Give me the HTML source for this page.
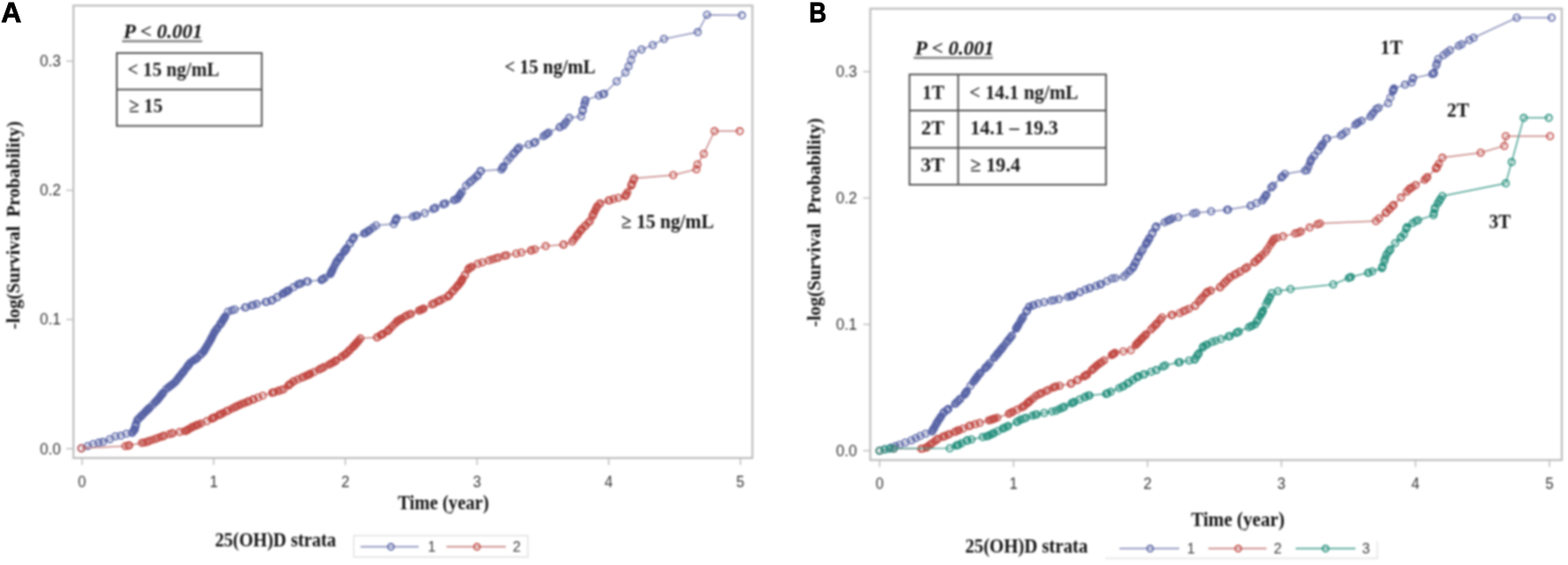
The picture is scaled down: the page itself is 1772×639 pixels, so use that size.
<!DOCTYPE html>
<html><head><meta charset="utf-8"><style>
html,body{margin:0;padding:0;background:#fff;width:1772px;height:639px;overflow:hidden}
svg{display:block;position:absolute;left:0;top:0}
#base{filter:blur(1px)}
.tk{font-family:"Liberation Sans",Arial,sans-serif;font-size:19px;fill:#333333}
.lg{font-family:"Liberation Sans",Arial,sans-serif;font-size:16px;fill:#3a3a3a}
.pl{font-family:"Liberation Sans",Arial,sans-serif;font-size:32px;font-weight:bold;fill:#000;stroke:#000;stroke-width:0.8px}
.pl2{font-family:"Liberation Sans",Arial,sans-serif;font-size:27px;font-weight:bold;fill:#000}
.pv{font-family:"Liberation Serif","Times New Roman",serif;font-size:23px;font-weight:bold;font-style:italic;fill:#111}
.tb{font-family:"Liberation Serif","Times New Roman",serif;font-size:23px;font-weight:bold;fill:#1a1a1a}
.cl{font-family:"Liberation Serif","Times New Roman",serif;font-size:23px;font-weight:bold;fill:#111}
.ax{font-family:"Liberation Serif","Times New Roman",serif;font-size:24px;font-weight:bold;fill:#111}
.ax2{font-family:"Liberation Serif","Times New Roman",serif;font-size:23.5px;font-weight:bold;fill:#111}
.ay{font-family:"Liberation Serif","Times New Roman",serif;font-size:22px;font-weight:bold;fill:#111}
</style></head><body>
<svg id="base" width="1772" height="639" viewBox="0 0 1772 639">
<rect width="1772" height="639" fill="#fff"/>
<rect x="83.0" y="6.3" width="767.3" height="511.7" fill="#fff" stroke="#bdbdbd" stroke-width="2.2"/>
<line x1="75.0" y1="507.5" x2="83.0" y2="507.5" stroke="#bdbdbd" stroke-width="1.5"/>
<text x="68.8" y="513.5" class="tk" text-anchor="end" textLength="23.8" lengthAdjust="spacingAndGlyphs">0.0</text>
<line x1="75.0" y1="361.4" x2="83.0" y2="361.4" stroke="#bdbdbd" stroke-width="1.5"/>
<text x="68.8" y="367.4" class="tk" text-anchor="end" textLength="23.8" lengthAdjust="spacingAndGlyphs">0.1</text>
<line x1="75.0" y1="215.3" x2="83.0" y2="215.3" stroke="#bdbdbd" stroke-width="1.5"/>
<text x="68.8" y="221.3" class="tk" text-anchor="end" textLength="23.8" lengthAdjust="spacingAndGlyphs">0.2</text>
<line x1="75.0" y1="69.2" x2="83.0" y2="69.2" stroke="#bdbdbd" stroke-width="1.5"/>
<text x="68.8" y="75.2" class="tk" text-anchor="end" textLength="23.8" lengthAdjust="spacingAndGlyphs">0.3</text>
<line x1="92.7" y1="518.0" x2="92.7" y2="526.0" stroke="#bdbdbd" stroke-width="1.5"/>
<text x="92.7" y="550.6" class="tk" text-anchor="middle" textLength="9.2" lengthAdjust="spacingAndGlyphs">0</text>
<line x1="241.5" y1="518.0" x2="241.5" y2="526.0" stroke="#bdbdbd" stroke-width="1.5"/>
<text x="241.5" y="550.6" class="tk" text-anchor="middle" textLength="9.2" lengthAdjust="spacingAndGlyphs">1</text>
<line x1="390.3" y1="518.0" x2="390.3" y2="526.0" stroke="#bdbdbd" stroke-width="1.5"/>
<text x="390.3" y="550.6" class="tk" text-anchor="middle" textLength="9.2" lengthAdjust="spacingAndGlyphs">2</text>
<line x1="539.1" y1="518.0" x2="539.1" y2="526.0" stroke="#bdbdbd" stroke-width="1.5"/>
<text x="539.1" y="550.6" class="tk" text-anchor="middle" textLength="9.2" lengthAdjust="spacingAndGlyphs">3</text>
<line x1="687.9" y1="518.0" x2="687.9" y2="526.0" stroke="#bdbdbd" stroke-width="1.5"/>
<text x="687.9" y="550.6" class="tk" text-anchor="middle" textLength="9.2" lengthAdjust="spacingAndGlyphs">4</text>
<line x1="836.7" y1="518.0" x2="836.7" y2="526.0" stroke="#bdbdbd" stroke-width="1.5"/>
<text x="836.7" y="550.6" class="tk" text-anchor="middle" textLength="9.2" lengthAdjust="spacingAndGlyphs">5</text>
<rect x="983.5" y="9.8" width="781.5" height="510.5" fill="#fff" stroke="#bdbdbd" stroke-width="2.2"/>
<line x1="975.5" y1="509.7" x2="983.5" y2="509.7" stroke="#bdbdbd" stroke-width="1.5"/>
<text x="968.6" y="515.7" class="tk" text-anchor="end" textLength="23.8" lengthAdjust="spacingAndGlyphs">0.0</text>
<line x1="975.5" y1="366.8" x2="983.5" y2="366.8" stroke="#bdbdbd" stroke-width="1.5"/>
<text x="968.6" y="372.8" class="tk" text-anchor="end" textLength="23.8" lengthAdjust="spacingAndGlyphs">0.1</text>
<line x1="975.5" y1="223.9" x2="983.5" y2="223.9" stroke="#bdbdbd" stroke-width="1.5"/>
<text x="968.6" y="229.9" class="tk" text-anchor="end" textLength="23.8" lengthAdjust="spacingAndGlyphs">0.2</text>
<line x1="975.5" y1="81.0" x2="983.5" y2="81.0" stroke="#bdbdbd" stroke-width="1.5"/>
<text x="968.6" y="87.0" class="tk" text-anchor="end" textLength="23.8" lengthAdjust="spacingAndGlyphs">0.3</text>
<line x1="994.0" y1="520.3" x2="994.0" y2="528.3" stroke="#bdbdbd" stroke-width="1.5"/>
<text x="994.0" y="552.9" class="tk" text-anchor="middle" textLength="9.2" lengthAdjust="spacingAndGlyphs">0</text>
<line x1="1145.4" y1="520.3" x2="1145.4" y2="528.3" stroke="#bdbdbd" stroke-width="1.5"/>
<text x="1145.4" y="552.9" class="tk" text-anchor="middle" textLength="9.2" lengthAdjust="spacingAndGlyphs">1</text>
<line x1="1296.8" y1="520.3" x2="1296.8" y2="528.3" stroke="#bdbdbd" stroke-width="1.5"/>
<text x="1296.8" y="552.9" class="tk" text-anchor="middle" textLength="9.2" lengthAdjust="spacingAndGlyphs">2</text>
<line x1="1448.2" y1="520.3" x2="1448.2" y2="528.3" stroke="#bdbdbd" stroke-width="1.5"/>
<text x="1448.2" y="552.9" class="tk" text-anchor="middle" textLength="9.2" lengthAdjust="spacingAndGlyphs">3</text>
<line x1="1599.6" y1="520.3" x2="1599.6" y2="528.3" stroke="#bdbdbd" stroke-width="1.5"/>
<text x="1599.6" y="552.9" class="tk" text-anchor="middle" textLength="9.2" lengthAdjust="spacingAndGlyphs">4</text>
<line x1="1751.0" y1="520.3" x2="1751.0" y2="528.3" stroke="#bdbdbd" stroke-width="1.5"/>
<text x="1751.0" y="552.9" class="tk" text-anchor="middle" textLength="9.2" lengthAdjust="spacingAndGlyphs">5</text>
<path d="M92.0,507.0 L99.1,504.5 L105.3,502.2 L111.6,500.6 L116.3,499.8 L124.1,496.7 L130.4,493.5 L136.6,492.8 L142.9,490.4 L149.2,489.6 L151.7,486.7 L155.0,475.2 L165.0,465.2 L177.6,452.7 L187.6,440.2 L197.6,432.6 L207.6,420.1 L215.1,410.1 L222.6,405.1 L230.1,397.6 L237.6,385.1 L242.7,375.1 L250.2,365.0 L257.7,352.5 L265.2,350.0 L277.7,347.5 L290.2,343.8 L306.7,340.0 L323.3,330.0 L336.7,321.7 L346.7,318.3 L363.3,316.7 L373.3,310.0 L380.0,296.7 L390.0,283.3 L400.0,268.3 L413.3,263.3 L425.0,255.0 L445.0,253.3 L448.3,246.7 L466.7,245.0 L480.0,241.0 L492.0,235.0 L503.3,230.0 L516.7,225.0 L526.7,210.0 L540.0,198.3 L543.3,193.3 L566.7,191.7 L573.3,181.7 L586.7,166.7 L603.3,161.7 L620.0,150.0 L636.7,141.7 L643.3,133.3 L656.7,131.7 L661.7,113.3 L682.8,106.0 L696.9,92.0 L706.8,82.0 L710.3,75.0 L713.1,68.0 L715.2,61.0 L725.0,56.0 L737.7,51.0 L750.4,44.0 L788.5,36.3 L799.0,16.7 L838.5,17.3" fill="none" stroke="#8c91bb" stroke-width="1.5"/>
<g fill="none" stroke="#5864a6" stroke-width="1.6"><circle cx="92.0" cy="507.0" r="3.7"/><circle cx="99.1" cy="504.5" r="3.7"/><circle cx="105.3" cy="502.2" r="3.7"/><circle cx="111.6" cy="500.6" r="3.7"/><circle cx="116.3" cy="499.8" r="3.7"/><circle cx="124.1" cy="496.7" r="3.7"/><circle cx="130.4" cy="493.5" r="3.7"/><circle cx="136.6" cy="492.8" r="3.7"/><circle cx="142.9" cy="490.4" r="3.7"/><circle cx="149.2" cy="489.6" r="3.7"/><circle cx="149.6" cy="489.1" r="3.7"/><circle cx="150.0" cy="488.6" r="3.7"/><circle cx="151.7" cy="486.7" r="3.7"/><circle cx="151.9" cy="486.1" r="3.7"/><circle cx="151.9" cy="485.8" r="3.7"/><circle cx="152.0" cy="485.7" r="3.7"/><circle cx="152.0" cy="485.7" r="3.7"/><circle cx="152.1" cy="485.5" r="3.7"/><circle cx="152.9" cy="482.4" r="3.7"/><circle cx="153.1" cy="481.7" r="3.7"/><circle cx="153.4" cy="480.9" r="3.7"/><circle cx="153.5" cy="480.6" r="3.7"/><circle cx="153.8" cy="479.3" r="3.7"/><circle cx="155.0" cy="475.2" r="3.7"/><circle cx="156.4" cy="473.8" r="3.7"/><circle cx="157.3" cy="472.9" r="3.7"/><circle cx="159.0" cy="471.2" r="3.7"/><circle cx="159.3" cy="470.9" r="3.7"/><circle cx="160.7" cy="469.5" r="3.7"/><circle cx="161.2" cy="469.0" r="3.7"/><circle cx="163.1" cy="467.1" r="3.7"/><circle cx="164.3" cy="465.9" r="3.7"/><circle cx="165.0" cy="465.2" r="3.7"/><circle cx="165.8" cy="464.4" r="3.7"/><circle cx="166.7" cy="463.5" r="3.7"/><circle cx="167.0" cy="463.2" r="3.7"/><circle cx="167.4" cy="462.8" r="3.7"/><circle cx="168.8" cy="461.5" r="3.7"/><circle cx="169.0" cy="461.2" r="3.7"/><circle cx="172.3" cy="458.0" r="3.7"/><circle cx="175.1" cy="455.2" r="3.7"/><circle cx="175.6" cy="454.6" r="3.7"/><circle cx="177.1" cy="453.2" r="3.7"/><circle cx="177.6" cy="452.7" r="3.7"/><circle cx="178.4" cy="451.7" r="3.7"/><circle cx="178.4" cy="451.7" r="3.7"/><circle cx="179.8" cy="450.0" r="3.7"/><circle cx="180.8" cy="448.7" r="3.7"/><circle cx="181.4" cy="448.0" r="3.7"/><circle cx="181.9" cy="447.3" r="3.7"/><circle cx="183.1" cy="445.9" r="3.7"/><circle cx="183.4" cy="445.4" r="3.7"/><circle cx="183.9" cy="444.8" r="3.7"/><circle cx="184.3" cy="444.3" r="3.7"/><circle cx="187.6" cy="440.2" r="3.7"/><circle cx="190.1" cy="438.3" r="3.7"/><circle cx="190.7" cy="437.9" r="3.7"/><circle cx="192.2" cy="436.7" r="3.7"/><circle cx="193.3" cy="435.9" r="3.7"/><circle cx="194.5" cy="434.9" r="3.7"/><circle cx="195.4" cy="434.3" r="3.7"/><circle cx="197.6" cy="432.6" r="3.7"/><circle cx="198.9" cy="430.9" r="3.7"/><circle cx="199.3" cy="430.5" r="3.7"/><circle cx="200.6" cy="428.9" r="3.7"/><circle cx="201.8" cy="427.3" r="3.7"/><circle cx="202.5" cy="426.5" r="3.7"/><circle cx="202.8" cy="426.0" r="3.7"/><circle cx="204.8" cy="423.6" r="3.7"/><circle cx="205.1" cy="423.3" r="3.7"/><circle cx="206.2" cy="421.8" r="3.7"/><circle cx="207.2" cy="420.6" r="3.7"/><circle cx="207.6" cy="420.1" r="3.7"/><circle cx="208.0" cy="419.5" r="3.7"/><circle cx="210.0" cy="416.9" r="3.7"/><circle cx="211.9" cy="414.4" r="3.7"/><circle cx="212.0" cy="414.2" r="3.7"/><circle cx="212.6" cy="413.5" r="3.7"/><circle cx="212.8" cy="413.2" r="3.7"/><circle cx="213.3" cy="412.6" r="3.7"/><circle cx="214.1" cy="411.5" r="3.7"/><circle cx="215.1" cy="410.1" r="3.7"/><circle cx="218.5" cy="407.8" r="3.7"/><circle cx="219.4" cy="407.2" r="3.7"/><circle cx="221.3" cy="406.0" r="3.7"/><circle cx="222.1" cy="405.5" r="3.7"/><circle cx="222.6" cy="405.1" r="3.7"/><circle cx="223.2" cy="404.5" r="3.7"/><circle cx="226.2" cy="401.5" r="3.7"/><circle cx="227.4" cy="400.3" r="3.7"/><circle cx="227.5" cy="400.2" r="3.7"/><circle cx="227.8" cy="399.9" r="3.7"/><circle cx="229.9" cy="397.8" r="3.7"/><circle cx="230.1" cy="397.6" r="3.7"/><circle cx="230.4" cy="397.1" r="3.7"/><circle cx="230.7" cy="396.6" r="3.7"/><circle cx="231.1" cy="395.9" r="3.7"/><circle cx="231.5" cy="395.3" r="3.7"/><circle cx="232.3" cy="393.9" r="3.7"/><circle cx="233.0" cy="392.7" r="3.7"/><circle cx="233.6" cy="391.8" r="3.7"/><circle cx="235.1" cy="389.3" r="3.7"/><circle cx="235.8" cy="388.1" r="3.7"/><circle cx="236.2" cy="387.5" r="3.7"/><circle cx="237.6" cy="385.1" r="3.7"/><circle cx="238.1" cy="384.1" r="3.7"/><circle cx="238.3" cy="383.7" r="3.7"/><circle cx="238.9" cy="382.5" r="3.7"/><circle cx="239.6" cy="381.1" r="3.7"/><circle cx="239.9" cy="380.6" r="3.7"/><circle cx="240.4" cy="379.6" r="3.7"/><circle cx="242.0" cy="376.5" r="3.7"/><circle cx="242.0" cy="376.4" r="3.7"/><circle cx="242.7" cy="375.1" r="3.7"/><circle cx="243.9" cy="373.4" r="3.7"/><circle cx="244.9" cy="372.2" r="3.7"/><circle cx="245.4" cy="371.4" r="3.7"/><circle cx="245.8" cy="370.9" r="3.7"/><circle cx="248.7" cy="367.0" r="3.7"/><circle cx="249.1" cy="366.5" r="3.7"/><circle cx="249.2" cy="366.3" r="3.7"/><circle cx="249.7" cy="365.6" r="3.7"/><circle cx="250.2" cy="365.0" r="3.7"/><circle cx="250.4" cy="364.7" r="3.7"/><circle cx="251.6" cy="362.6" r="3.7"/><circle cx="252.0" cy="362.0" r="3.7"/><circle cx="252.0" cy="361.9" r="3.7"/><circle cx="252.2" cy="361.6" r="3.7"/><circle cx="253.0" cy="360.3" r="3.7"/><circle cx="253.4" cy="359.7" r="3.7"/><circle cx="253.8" cy="358.9" r="3.7"/><circle cx="254.6" cy="357.7" r="3.7"/><circle cx="257.7" cy="352.5" r="3.7"/><circle cx="261.9" cy="351.1" r="3.7"/><circle cx="265.2" cy="350.0" r="3.7"/><circle cx="276.9" cy="347.7" r="3.7"/><circle cx="277.7" cy="347.5" r="3.7"/><circle cx="284.1" cy="345.6" r="3.7"/><circle cx="286.2" cy="345.0" r="3.7"/><circle cx="290.2" cy="343.8" r="3.7"/><circle cx="300.3" cy="341.5" r="3.7"/><circle cx="301.2" cy="341.3" r="3.7"/><circle cx="306.7" cy="340.0" r="3.7"/><circle cx="307.9" cy="339.3" r="3.7"/><circle cx="313.3" cy="336.0" r="3.7"/><circle cx="313.4" cy="336.0" r="3.7"/><circle cx="319.5" cy="332.3" r="3.7"/><circle cx="319.7" cy="332.1" r="3.7"/><circle cx="321.0" cy="331.4" r="3.7"/><circle cx="321.4" cy="331.2" r="3.7"/><circle cx="323.3" cy="330.0" r="3.7"/><circle cx="324.4" cy="329.3" r="3.7"/><circle cx="324.4" cy="329.3" r="3.7"/><circle cx="324.9" cy="329.0" r="3.7"/><circle cx="326.3" cy="328.2" r="3.7"/><circle cx="331.7" cy="324.8" r="3.7"/><circle cx="336.7" cy="321.7" r="3.7"/><circle cx="338.5" cy="321.1" r="3.7"/><circle cx="340.2" cy="320.5" r="3.7"/><circle cx="346.7" cy="318.3" r="3.7"/><circle cx="347.9" cy="318.2" r="3.7"/><circle cx="363.3" cy="316.7" r="3.7"/><circle cx="363.5" cy="316.6" r="3.7"/><circle cx="364.5" cy="315.9" r="3.7"/><circle cx="365.0" cy="315.6" r="3.7"/><circle cx="367.0" cy="314.2" r="3.7"/><circle cx="373.3" cy="310.0" r="3.7"/><circle cx="373.6" cy="309.4" r="3.7"/><circle cx="374.2" cy="308.2" r="3.7"/><circle cx="374.4" cy="307.8" r="3.7"/><circle cx="375.1" cy="306.5" r="3.7"/><circle cx="375.7" cy="305.3" r="3.7"/><circle cx="375.8" cy="305.1" r="3.7"/><circle cx="377.4" cy="301.9" r="3.7"/><circle cx="379.1" cy="298.6" r="3.7"/><circle cx="380.0" cy="296.7" r="3.7"/><circle cx="381.0" cy="295.3" r="3.7"/><circle cx="381.2" cy="295.1" r="3.7"/><circle cx="382.7" cy="293.0" r="3.7"/><circle cx="383.5" cy="292.0" r="3.7"/><circle cx="384.7" cy="290.4" r="3.7"/><circle cx="384.8" cy="290.2" r="3.7"/><circle cx="388.3" cy="285.5" r="3.7"/><circle cx="389.7" cy="283.7" r="3.7"/><circle cx="390.0" cy="283.3" r="3.7"/><circle cx="390.4" cy="282.7" r="3.7"/><circle cx="390.5" cy="282.6" r="3.7"/><circle cx="391.6" cy="280.9" r="3.7"/><circle cx="391.7" cy="280.7" r="3.7"/><circle cx="395.3" cy="275.4" r="3.7"/><circle cx="395.3" cy="275.4" r="3.7"/><circle cx="395.4" cy="275.2" r="3.7"/><circle cx="398.2" cy="271.1" r="3.7"/><circle cx="399.3" cy="269.3" r="3.7"/><circle cx="400.0" cy="268.3" r="3.7"/><circle cx="411.3" cy="264.1" r="3.7"/><circle cx="412.8" cy="263.5" r="3.7"/><circle cx="413.3" cy="263.3" r="3.7"/><circle cx="415.4" cy="261.8" r="3.7"/><circle cx="416.5" cy="261.1" r="3.7"/><circle cx="417.7" cy="260.2" r="3.7"/><circle cx="421.4" cy="257.6" r="3.7"/><circle cx="425.0" cy="255.0" r="3.7"/><circle cx="445.0" cy="253.3" r="3.7"/><circle cx="446.8" cy="249.8" r="3.7"/><circle cx="447.5" cy="248.3" r="3.7"/><circle cx="447.5" cy="248.2" r="3.7"/><circle cx="448.3" cy="246.7" r="3.7"/><circle cx="466.7" cy="245.0" r="3.7"/><circle cx="469.8" cy="244.1" r="3.7"/><circle cx="471.2" cy="243.7" r="3.7"/><circle cx="480.0" cy="241.0" r="3.7"/><circle cx="489.6" cy="236.2" r="3.7"/><circle cx="491.6" cy="235.2" r="3.7"/><circle cx="492.0" cy="235.0" r="3.7"/><circle cx="501.0" cy="231.0" r="3.7"/><circle cx="501.5" cy="230.8" r="3.7"/><circle cx="503.3" cy="230.0" r="3.7"/><circle cx="513.1" cy="226.3" r="3.7"/><circle cx="514.1" cy="226.0" r="3.7"/><circle cx="516.7" cy="225.0" r="3.7"/><circle cx="517.2" cy="224.3" r="3.7"/><circle cx="517.2" cy="224.3" r="3.7"/><circle cx="519.1" cy="221.4" r="3.7"/><circle cx="519.6" cy="220.7" r="3.7"/><circle cx="520.3" cy="219.6" r="3.7"/><circle cx="521.9" cy="217.2" r="3.7"/><circle cx="526.7" cy="210.0" r="3.7"/><circle cx="530.3" cy="206.9" r="3.7"/><circle cx="532.7" cy="204.7" r="3.7"/><circle cx="535.8" cy="202.0" r="3.7"/><circle cx="538.9" cy="199.2" r="3.7"/><circle cx="539.2" cy="199.0" r="3.7"/><circle cx="540.0" cy="198.3" r="3.7"/><circle cx="543.1" cy="193.6" r="3.7"/><circle cx="543.2" cy="193.5" r="3.7"/><circle cx="543.3" cy="193.3" r="3.7"/><circle cx="566.7" cy="191.7" r="3.7"/><circle cx="568.1" cy="189.6" r="3.7"/><circle cx="568.2" cy="189.4" r="3.7"/><circle cx="568.3" cy="189.3" r="3.7"/><circle cx="569.1" cy="188.0" r="3.7"/><circle cx="573.3" cy="181.7" r="3.7"/><circle cx="576.2" cy="178.5" r="3.7"/><circle cx="579.7" cy="174.5" r="3.7"/><circle cx="581.6" cy="172.4" r="3.7"/><circle cx="584.4" cy="169.3" r="3.7"/><circle cx="585.1" cy="168.4" r="3.7"/><circle cx="586.7" cy="166.7" r="3.7"/><circle cx="597.4" cy="163.5" r="3.7"/><circle cx="603.3" cy="161.7" r="3.7"/><circle cx="605.0" cy="160.5" r="3.7"/><circle cx="614.2" cy="154.0" r="3.7"/><circle cx="616.5" cy="152.5" r="3.7"/><circle cx="618.2" cy="151.2" r="3.7"/><circle cx="620.0" cy="150.0" r="3.7"/><circle cx="632.4" cy="143.9" r="3.7"/><circle cx="632.9" cy="143.6" r="3.7"/><circle cx="636.7" cy="141.7" r="3.7"/><circle cx="638.0" cy="140.1" r="3.7"/><circle cx="639.9" cy="137.7" r="3.7"/><circle cx="643.3" cy="133.3" r="3.7"/><circle cx="656.7" cy="131.7" r="3.7"/><circle cx="658.4" cy="125.5" r="3.7"/><circle cx="658.7" cy="124.3" r="3.7"/><circle cx="658.7" cy="124.2" r="3.7"/><circle cx="660.6" cy="117.4" r="3.7"/><circle cx="660.6" cy="117.2" r="3.7"/><circle cx="661.5" cy="114.2" r="3.7"/><circle cx="661.7" cy="113.3" r="3.7"/><circle cx="676.8" cy="108.1" r="3.7"/><circle cx="681.3" cy="106.5" r="3.7"/><circle cx="682.8" cy="106.0" r="3.7"/><circle cx="696.9" cy="92.0" r="3.7"/><circle cx="706.8" cy="82.0" r="3.7"/><circle cx="710.3" cy="75.0" r="3.7"/><circle cx="713.1" cy="68.0" r="3.7"/><circle cx="715.2" cy="61.0" r="3.7"/><circle cx="725.0" cy="56.0" r="3.7"/><circle cx="737.7" cy="51.0" r="3.7"/><circle cx="750.4" cy="44.0" r="3.7"/><circle cx="788.5" cy="36.3" r="3.7"/><circle cx="799.0" cy="16.7" r="3.7"/><circle cx="838.5" cy="17.3" r="3.7"/></g>
<path d="M92.0,507.0 L141.7,504.5 L165.0,500.0 L185.0,493.0 L195.0,490.0 L210.2,487.3 L218.0,482.6 L233.7,476.3 L249.3,468.5 L265.0,460.7 L273.5,456.8 L297.0,447.4 L320.4,440.3 L332.2,431.0 L348.6,423.9 L362.7,416.9 L376.8,409.8 L390.8,400.4 L400.2,391.0 L407.3,382.8 L426.0,381.6 L437.8,374.6 L449.5,362.9 L460.0,356.7 L476.7,350.0 L496.7,340.0 L506.7,335.0 L520.0,320.0 L530.0,303.3 L540.0,298.3 L556.7,293.3 L570.0,289.3 L583.3,286.7 L600.0,283.3 L616.7,278.3 L636.7,276.7 L646.7,273.3 L656.7,260.0 L666.7,250.0 L675.0,233.3 L678.3,230.0 L693.3,225.0 L706.7,221.7 L713.3,210.0 L716.7,201.7 L760.8,198.0 L787.0,191.5 L788.2,186.0 L795.3,174.0 L807.5,148.3 L836.0,148.3" fill="none" stroke="#c98585" stroke-width="1.5"/>
<g fill="none" stroke="#c24a44" stroke-width="1.6"><circle cx="92.0" cy="507.0" r="3.7"/><circle cx="141.7" cy="504.5" r="3.7"/><circle cx="145.0" cy="503.9" r="3.7"/><circle cx="145.5" cy="503.8" r="3.7"/><circle cx="146.0" cy="503.7" r="3.7"/><circle cx="160.2" cy="500.9" r="3.7"/><circle cx="162.4" cy="500.5" r="3.7"/><circle cx="165.0" cy="500.0" r="3.7"/><circle cx="167.9" cy="499.0" r="3.7"/><circle cx="168.2" cy="498.9" r="3.7"/><circle cx="172.1" cy="497.5" r="3.7"/><circle cx="175.9" cy="496.2" r="3.7"/><circle cx="178.0" cy="495.4" r="3.7"/><circle cx="181.3" cy="494.3" r="3.7"/><circle cx="184.2" cy="493.3" r="3.7"/><circle cx="185.0" cy="493.0" r="3.7"/><circle cx="185.3" cy="492.9" r="3.7"/><circle cx="191.4" cy="491.1" r="3.7"/><circle cx="194.5" cy="490.1" r="3.7"/><circle cx="195.0" cy="490.0" r="3.7"/><circle cx="203.0" cy="488.6" r="3.7"/><circle cx="208.9" cy="487.5" r="3.7"/><circle cx="210.2" cy="487.3" r="3.7"/><circle cx="211.9" cy="486.3" r="3.7"/><circle cx="212.2" cy="486.1" r="3.7"/><circle cx="213.6" cy="485.2" r="3.7"/><circle cx="216.5" cy="483.5" r="3.7"/><circle cx="216.9" cy="483.3" r="3.7"/><circle cx="218.0" cy="482.6" r="3.7"/><circle cx="220.3" cy="481.7" r="3.7"/><circle cx="221.9" cy="481.0" r="3.7"/><circle cx="222.2" cy="480.9" r="3.7"/><circle cx="222.7" cy="480.7" r="3.7"/><circle cx="224.6" cy="479.9" r="3.7"/><circle cx="227.2" cy="478.9" r="3.7"/><circle cx="233.7" cy="476.3" r="3.7"/><circle cx="239.3" cy="473.5" r="3.7"/><circle cx="240.3" cy="473.0" r="3.7"/><circle cx="240.9" cy="472.7" r="3.7"/><circle cx="241.5" cy="472.4" r="3.7"/><circle cx="242.7" cy="471.8" r="3.7"/><circle cx="247.6" cy="469.4" r="3.7"/><circle cx="247.6" cy="469.3" r="3.7"/><circle cx="247.8" cy="469.3" r="3.7"/><circle cx="249.3" cy="468.5" r="3.7"/><circle cx="249.7" cy="468.3" r="3.7"/><circle cx="249.9" cy="468.2" r="3.7"/><circle cx="252.4" cy="467.0" r="3.7"/><circle cx="256.2" cy="465.0" r="3.7"/><circle cx="257.5" cy="464.4" r="3.7"/><circle cx="257.6" cy="464.4" r="3.7"/><circle cx="261.7" cy="462.4" r="3.7"/><circle cx="265.0" cy="460.7" r="3.7"/><circle cx="266.6" cy="460.0" r="3.7"/><circle cx="269.0" cy="458.8" r="3.7"/><circle cx="271.1" cy="457.9" r="3.7"/><circle cx="273.5" cy="456.8" r="3.7"/><circle cx="276.4" cy="455.7" r="3.7"/><circle cx="279.6" cy="454.4" r="3.7"/><circle cx="280.2" cy="454.1" r="3.7"/><circle cx="281.3" cy="453.7" r="3.7"/><circle cx="285.7" cy="451.9" r="3.7"/><circle cx="286.5" cy="451.6" r="3.7"/><circle cx="286.5" cy="451.6" r="3.7"/><circle cx="286.6" cy="451.6" r="3.7"/><circle cx="291.7" cy="449.5" r="3.7"/><circle cx="297.0" cy="447.4" r="3.7"/><circle cx="307.4" cy="444.2" r="3.7"/><circle cx="308.9" cy="443.8" r="3.7"/><circle cx="310.1" cy="443.4" r="3.7"/><circle cx="314.5" cy="442.1" r="3.7"/><circle cx="314.8" cy="442.0" r="3.7"/><circle cx="318.0" cy="441.0" r="3.7"/><circle cx="320.4" cy="440.3" r="3.7"/><circle cx="325.8" cy="436.1" r="3.7"/><circle cx="326.1" cy="435.8" r="3.7"/><circle cx="326.4" cy="435.6" r="3.7"/><circle cx="326.4" cy="435.5" r="3.7"/><circle cx="326.7" cy="435.4" r="3.7"/><circle cx="327.6" cy="434.6" r="3.7"/><circle cx="328.5" cy="433.9" r="3.7"/><circle cx="331.3" cy="431.7" r="3.7"/><circle cx="332.2" cy="431.0" r="3.7"/><circle cx="336.6" cy="429.1" r="3.7"/><circle cx="341.3" cy="427.0" r="3.7"/><circle cx="343.5" cy="426.1" r="3.7"/><circle cx="346.3" cy="424.9" r="3.7"/><circle cx="347.4" cy="424.4" r="3.7"/><circle cx="347.4" cy="424.4" r="3.7"/><circle cx="348.6" cy="423.9" r="3.7"/><circle cx="349.9" cy="423.3" r="3.7"/><circle cx="350.5" cy="422.9" r="3.7"/><circle cx="350.7" cy="422.8" r="3.7"/><circle cx="354.9" cy="420.8" r="3.7"/><circle cx="360.3" cy="418.1" r="3.7"/><circle cx="362.7" cy="416.9" r="3.7"/><circle cx="364.0" cy="416.3" r="3.7"/><circle cx="366.2" cy="415.1" r="3.7"/><circle cx="372.0" cy="412.2" r="3.7"/><circle cx="373.6" cy="411.4" r="3.7"/><circle cx="375.1" cy="410.6" r="3.7"/><circle cx="376.8" cy="409.8" r="3.7"/><circle cx="379.0" cy="408.3" r="3.7"/><circle cx="379.2" cy="408.2" r="3.7"/><circle cx="380.0" cy="407.6" r="3.7"/><circle cx="386.0" cy="403.7" r="3.7"/><circle cx="386.7" cy="403.1" r="3.7"/><circle cx="388.9" cy="401.6" r="3.7"/><circle cx="390.1" cy="400.9" r="3.7"/><circle cx="390.8" cy="400.4" r="3.7"/><circle cx="392.4" cy="398.8" r="3.7"/><circle cx="394.6" cy="396.6" r="3.7"/><circle cx="394.9" cy="396.3" r="3.7"/><circle cx="395.4" cy="395.8" r="3.7"/><circle cx="398.5" cy="392.7" r="3.7"/><circle cx="399.6" cy="391.6" r="3.7"/><circle cx="399.9" cy="391.3" r="3.7"/><circle cx="400.2" cy="391.0" r="3.7"/><circle cx="400.5" cy="390.7" r="3.7"/><circle cx="401.7" cy="389.3" r="3.7"/><circle cx="402.5" cy="388.3" r="3.7"/><circle cx="402.7" cy="388.2" r="3.7"/><circle cx="403.9" cy="386.8" r="3.7"/><circle cx="405.3" cy="385.2" r="3.7"/><circle cx="407.3" cy="382.8" r="3.7"/><circle cx="426.0" cy="381.6" r="3.7"/><circle cx="426.4" cy="381.3" r="3.7"/><circle cx="430.0" cy="379.2" r="3.7"/><circle cx="431.2" cy="378.5" r="3.7"/><circle cx="432.5" cy="377.7" r="3.7"/><circle cx="433.3" cy="377.3" r="3.7"/><circle cx="437.8" cy="374.6" r="3.7"/><circle cx="438.5" cy="373.9" r="3.7"/><circle cx="438.8" cy="373.6" r="3.7"/><circle cx="439.2" cy="373.2" r="3.7"/><circle cx="441.0" cy="371.4" r="3.7"/><circle cx="443.8" cy="368.6" r="3.7"/><circle cx="446.9" cy="365.5" r="3.7"/><circle cx="448.9" cy="363.5" r="3.7"/><circle cx="449.1" cy="363.3" r="3.7"/><circle cx="449.5" cy="362.9" r="3.7"/><circle cx="451.0" cy="362.0" r="3.7"/><circle cx="452.4" cy="361.2" r="3.7"/><circle cx="454.0" cy="360.3" r="3.7"/><circle cx="457.6" cy="358.1" r="3.7"/><circle cx="460.0" cy="356.7" r="3.7"/><circle cx="462.7" cy="355.6" r="3.7"/><circle cx="464.5" cy="354.9" r="3.7"/><circle cx="473.5" cy="351.3" r="3.7"/><circle cx="474.9" cy="350.7" r="3.7"/><circle cx="476.7" cy="350.0" r="3.7"/><circle cx="478.2" cy="349.2" r="3.7"/><circle cx="478.8" cy="348.9" r="3.7"/><circle cx="488.1" cy="344.3" r="3.7"/><circle cx="490.3" cy="343.2" r="3.7"/><circle cx="490.5" cy="343.1" r="3.7"/><circle cx="494.7" cy="341.0" r="3.7"/><circle cx="496.7" cy="340.0" r="3.7"/><circle cx="497.6" cy="339.6" r="3.7"/><circle cx="501.0" cy="337.9" r="3.7"/><circle cx="505.9" cy="335.4" r="3.7"/><circle cx="506.7" cy="335.0" r="3.7"/><circle cx="507.8" cy="333.7" r="3.7"/><circle cx="508.0" cy="333.5" r="3.7"/><circle cx="511.3" cy="329.8" r="3.7"/><circle cx="512.8" cy="328.2" r="3.7"/><circle cx="515.1" cy="325.6" r="3.7"/><circle cx="517.2" cy="323.2" r="3.7"/><circle cx="517.9" cy="322.4" r="3.7"/><circle cx="518.0" cy="322.3" r="3.7"/><circle cx="520.0" cy="320.0" r="3.7"/><circle cx="520.7" cy="318.9" r="3.7"/><circle cx="521.3" cy="317.9" r="3.7"/><circle cx="521.4" cy="317.6" r="3.7"/><circle cx="521.7" cy="317.1" r="3.7"/><circle cx="522.5" cy="315.8" r="3.7"/><circle cx="522.8" cy="315.4" r="3.7"/><circle cx="525.3" cy="311.2" r="3.7"/><circle cx="525.5" cy="310.8" r="3.7"/><circle cx="529.1" cy="304.8" r="3.7"/><circle cx="530.0" cy="303.3" r="3.7"/><circle cx="532.1" cy="302.2" r="3.7"/><circle cx="533.2" cy="301.7" r="3.7"/><circle cx="540.0" cy="298.3" r="3.7"/><circle cx="545.2" cy="296.7" r="3.7"/><circle cx="552.5" cy="294.6" r="3.7"/><circle cx="556.7" cy="293.3" r="3.7"/><circle cx="560.7" cy="292.1" r="3.7"/><circle cx="563.4" cy="291.3" r="3.7"/><circle cx="570.0" cy="289.3" r="3.7"/><circle cx="572.5" cy="288.8" r="3.7"/><circle cx="583.3" cy="286.7" r="3.7"/><circle cx="589.2" cy="285.5" r="3.7"/><circle cx="600.0" cy="283.3" r="3.7"/><circle cx="600.6" cy="283.1" r="3.7"/><circle cx="604.3" cy="282.0" r="3.7"/><circle cx="616.7" cy="278.3" r="3.7"/><circle cx="636.7" cy="276.7" r="3.7"/><circle cx="637.0" cy="276.6" r="3.7"/><circle cx="646.7" cy="273.3" r="3.7"/><circle cx="648.7" cy="270.6" r="3.7"/><circle cx="651.5" cy="267.0" r="3.7"/><circle cx="652.2" cy="266.0" r="3.7"/><circle cx="653.9" cy="263.7" r="3.7"/><circle cx="655.9" cy="261.1" r="3.7"/><circle cx="656.7" cy="260.0" r="3.7"/><circle cx="657.9" cy="258.8" r="3.7"/><circle cx="661.0" cy="255.7" r="3.7"/><circle cx="661.7" cy="255.0" r="3.7"/><circle cx="664.8" cy="251.9" r="3.7"/><circle cx="666.7" cy="250.0" r="3.7"/><circle cx="669.6" cy="244.2" r="3.7"/><circle cx="670.0" cy="243.4" r="3.7"/><circle cx="670.9" cy="241.5" r="3.7"/><circle cx="672.3" cy="238.6" r="3.7"/><circle cx="673.5" cy="236.3" r="3.7"/><circle cx="674.7" cy="233.9" r="3.7"/><circle cx="675.0" cy="233.3" r="3.7"/><circle cx="677.7" cy="230.6" r="3.7"/><circle cx="678.3" cy="230.0" r="3.7"/><circle cx="687.8" cy="226.8" r="3.7"/><circle cx="688.8" cy="226.5" r="3.7"/><circle cx="693.3" cy="225.0" r="3.7"/><circle cx="698.8" cy="223.7" r="3.7"/><circle cx="706.7" cy="221.7" r="3.7"/><circle cx="707.2" cy="220.9" r="3.7"/><circle cx="707.3" cy="220.7" r="3.7"/><circle cx="707.7" cy="220.0" r="3.7"/><circle cx="709.0" cy="217.6" r="3.7"/><circle cx="713.3" cy="210.0" r="3.7"/><circle cx="713.9" cy="208.5" r="3.7"/><circle cx="714.2" cy="207.8" r="3.7"/><circle cx="715.8" cy="203.9" r="3.7"/><circle cx="716.7" cy="201.7" r="3.7"/><circle cx="760.8" cy="198.0" r="3.7"/><circle cx="787.0" cy="191.5" r="3.7"/><circle cx="788.2" cy="186.0" r="3.7"/><circle cx="795.3" cy="174.0" r="3.7"/><circle cx="807.5" cy="148.3" r="3.7"/><circle cx="836.0" cy="148.3" r="3.7"/></g>
<path d="M994.0,509.7 L1000.0,508.0 L1006.7,506.3 L1012.0,504.5 L1016.7,503.0 L1023.0,500.5 L1030.0,498.0 L1035.0,495.5 L1040.0,493.0 L1046.0,490.5 L1053.3,488.0 L1060.0,476.3 L1066.7,466.3 L1080.0,456.3 L1090.0,446.3 L1096.7,436.3 L1106.7,423.0 L1116.7,413.0 L1130.0,396.7 L1143.3,380.0 L1153.3,363.3 L1163.3,346.7 L1173.3,343.3 L1180.0,341.7 L1196.7,338.3 L1210.0,335.0 L1226.7,327.5 L1243.3,321.7 L1256.7,315.0 L1270.0,312.7 L1280.0,303.3 L1286.7,290.0 L1296.7,273.3 L1306.7,256.0 L1325.0,247.0 L1351.7,240.7 L1386.7,237.3 L1413.3,232.7 L1426.7,226.7 L1436.7,212.0 L1452.0,196.7 L1477.0,192.5 L1482.0,180.0 L1490.0,170.0 L1498.7,157.0 L1515.3,153.3 L1535.3,138.3 L1548.7,131.7 L1555.3,123.3 L1568.7,116.7 L1575.3,100.0 L1595.3,93.3 L1597.0,88.3 L1620.3,83.3 L1625.3,66.7 L1638.7,56.7 L1652.0,50.0 L1665.3,42.7 L1714.0,20.0 L1753.5,20.0" fill="none" stroke="#8c91bb" stroke-width="1.5"/>
<g fill="none" stroke="#5864a6" stroke-width="1.6"><circle cx="994.0" cy="509.7" r="3.7"/><circle cx="1000.0" cy="508.0" r="3.7"/><circle cx="1006.7" cy="506.3" r="3.7"/><circle cx="1012.0" cy="504.5" r="3.7"/><circle cx="1016.7" cy="503.0" r="3.7"/><circle cx="1023.0" cy="500.5" r="3.7"/><circle cx="1030.0" cy="498.0" r="3.7"/><circle cx="1035.0" cy="495.5" r="3.7"/><circle cx="1040.0" cy="493.0" r="3.7"/><circle cx="1046.0" cy="490.5" r="3.7"/><circle cx="1053.3" cy="488.0" r="3.7"/><circle cx="1054.0" cy="486.8" r="3.7"/><circle cx="1055.0" cy="485.0" r="3.7"/><circle cx="1055.2" cy="484.6" r="3.7"/><circle cx="1055.3" cy="484.5" r="3.7"/><circle cx="1056.4" cy="482.6" r="3.7"/><circle cx="1057.7" cy="480.2" r="3.7"/><circle cx="1058.8" cy="478.3" r="3.7"/><circle cx="1059.0" cy="478.0" r="3.7"/><circle cx="1060.0" cy="476.3" r="3.7"/><circle cx="1061.1" cy="474.6" r="3.7"/><circle cx="1061.8" cy="473.6" r="3.7"/><circle cx="1063.0" cy="471.8" r="3.7"/><circle cx="1063.7" cy="470.8" r="3.7"/><circle cx="1066.3" cy="466.9" r="3.7"/><circle cx="1066.4" cy="466.8" r="3.7"/><circle cx="1066.7" cy="466.3" r="3.7"/><circle cx="1067.0" cy="466.1" r="3.7"/><circle cx="1070.1" cy="463.8" r="3.7"/><circle cx="1070.9" cy="463.1" r="3.7"/><circle cx="1071.5" cy="462.7" r="3.7"/><circle cx="1071.8" cy="462.4" r="3.7"/><circle cx="1079.3" cy="456.8" r="3.7"/><circle cx="1080.0" cy="456.3" r="3.7"/><circle cx="1080.2" cy="456.1" r="3.7"/><circle cx="1082.1" cy="454.2" r="3.7"/><circle cx="1082.7" cy="453.6" r="3.7"/><circle cx="1084.8" cy="451.5" r="3.7"/><circle cx="1085.0" cy="451.3" r="3.7"/><circle cx="1085.0" cy="451.3" r="3.7"/><circle cx="1090.0" cy="446.3" r="3.7"/><circle cx="1090.3" cy="445.9" r="3.7"/><circle cx="1090.4" cy="445.7" r="3.7"/><circle cx="1090.7" cy="445.2" r="3.7"/><circle cx="1091.6" cy="443.9" r="3.7"/><circle cx="1092.1" cy="443.2" r="3.7"/><circle cx="1092.7" cy="442.3" r="3.7"/><circle cx="1096.7" cy="436.3" r="3.7"/><circle cx="1100.0" cy="431.9" r="3.7"/><circle cx="1100.6" cy="431.1" r="3.7"/><circle cx="1102.0" cy="429.3" r="3.7"/><circle cx="1102.5" cy="428.6" r="3.7"/><circle cx="1103.2" cy="427.6" r="3.7"/><circle cx="1103.8" cy="426.9" r="3.7"/><circle cx="1104.1" cy="426.5" r="3.7"/><circle cx="1105.3" cy="424.8" r="3.7"/><circle cx="1106.7" cy="423.0" r="3.7"/><circle cx="1107.3" cy="422.4" r="3.7"/><circle cx="1108.3" cy="421.4" r="3.7"/><circle cx="1113.1" cy="416.6" r="3.7"/><circle cx="1113.9" cy="415.8" r="3.7"/><circle cx="1114.9" cy="414.8" r="3.7"/><circle cx="1116.4" cy="413.3" r="3.7"/><circle cx="1116.7" cy="413.0" r="3.7"/><circle cx="1118.7" cy="410.5" r="3.7"/><circle cx="1123.4" cy="404.8" r="3.7"/><circle cx="1123.7" cy="404.5" r="3.7"/><circle cx="1125.0" cy="402.9" r="3.7"/><circle cx="1126.3" cy="401.2" r="3.7"/><circle cx="1127.2" cy="400.1" r="3.7"/><circle cx="1127.3" cy="400.0" r="3.7"/><circle cx="1127.5" cy="399.7" r="3.7"/><circle cx="1127.6" cy="399.6" r="3.7"/><circle cx="1128.4" cy="398.7" r="3.7"/><circle cx="1130.0" cy="396.7" r="3.7"/><circle cx="1130.7" cy="395.9" r="3.7"/><circle cx="1131.6" cy="394.7" r="3.7"/><circle cx="1132.0" cy="394.2" r="3.7"/><circle cx="1133.2" cy="392.7" r="3.7"/><circle cx="1134.9" cy="390.6" r="3.7"/><circle cx="1137.7" cy="387.0" r="3.7"/><circle cx="1139.0" cy="385.4" r="3.7"/><circle cx="1139.1" cy="385.3" r="3.7"/><circle cx="1140.9" cy="383.0" r="3.7"/><circle cx="1141.7" cy="382.1" r="3.7"/><circle cx="1143.3" cy="380.0" r="3.7"/><circle cx="1143.5" cy="379.6" r="3.7"/><circle cx="1148.2" cy="371.8" r="3.7"/><circle cx="1148.3" cy="371.6" r="3.7"/><circle cx="1148.6" cy="371.1" r="3.7"/><circle cx="1148.9" cy="370.7" r="3.7"/><circle cx="1149.5" cy="369.6" r="3.7"/><circle cx="1149.5" cy="369.6" r="3.7"/><circle cx="1150.0" cy="368.8" r="3.7"/><circle cx="1150.7" cy="367.7" r="3.7"/><circle cx="1151.2" cy="366.9" r="3.7"/><circle cx="1153.3" cy="363.3" r="3.7"/><circle cx="1154.1" cy="361.9" r="3.7"/><circle cx="1154.2" cy="361.8" r="3.7"/><circle cx="1155.5" cy="359.7" r="3.7"/><circle cx="1155.9" cy="358.9" r="3.7"/><circle cx="1156.0" cy="358.7" r="3.7"/><circle cx="1159.8" cy="352.5" r="3.7"/><circle cx="1160.5" cy="351.3" r="3.7"/><circle cx="1160.6" cy="351.2" r="3.7"/><circle cx="1160.6" cy="351.2" r="3.7"/><circle cx="1162.9" cy="347.4" r="3.7"/><circle cx="1163.3" cy="346.7" r="3.7"/><circle cx="1167.2" cy="345.4" r="3.7"/><circle cx="1168.2" cy="345.0" r="3.7"/><circle cx="1173.3" cy="343.3" r="3.7"/><circle cx="1180.0" cy="341.7" r="3.7"/><circle cx="1188.0" cy="340.1" r="3.7"/><circle cx="1191.3" cy="339.4" r="3.7"/><circle cx="1196.7" cy="338.3" r="3.7"/><circle cx="1206.8" cy="335.8" r="3.7"/><circle cx="1210.0" cy="335.0" r="3.7"/><circle cx="1211.6" cy="334.3" r="3.7"/><circle cx="1212.7" cy="333.8" r="3.7"/><circle cx="1220.2" cy="330.4" r="3.7"/><circle cx="1220.6" cy="330.2" r="3.7"/><circle cx="1226.7" cy="327.5" r="3.7"/><circle cx="1231.1" cy="326.0" r="3.7"/><circle cx="1231.9" cy="325.7" r="3.7"/><circle cx="1238.9" cy="323.2" r="3.7"/><circle cx="1243.3" cy="321.7" r="3.7"/><circle cx="1243.7" cy="321.5" r="3.7"/><circle cx="1244.3" cy="321.2" r="3.7"/><circle cx="1250.9" cy="317.9" r="3.7"/><circle cx="1256.7" cy="315.0" r="3.7"/><circle cx="1260.4" cy="314.4" r="3.7"/><circle cx="1270.0" cy="312.7" r="3.7"/><circle cx="1273.0" cy="309.9" r="3.7"/><circle cx="1276.7" cy="306.4" r="3.7"/><circle cx="1276.7" cy="306.4" r="3.7"/><circle cx="1276.8" cy="306.3" r="3.7"/><circle cx="1280.0" cy="303.3" r="3.7"/><circle cx="1280.9" cy="301.5" r="3.7"/><circle cx="1281.4" cy="300.5" r="3.7"/><circle cx="1283.1" cy="297.1" r="3.7"/><circle cx="1283.1" cy="297.1" r="3.7"/><circle cx="1283.5" cy="296.4" r="3.7"/><circle cx="1285.9" cy="291.6" r="3.7"/><circle cx="1286.7" cy="290.0" r="3.7"/><circle cx="1287.1" cy="289.4" r="3.7"/><circle cx="1289.5" cy="285.4" r="3.7"/><circle cx="1291.2" cy="282.5" r="3.7"/><circle cx="1291.3" cy="282.3" r="3.7"/><circle cx="1294.8" cy="276.5" r="3.7"/><circle cx="1295.9" cy="274.7" r="3.7"/><circle cx="1296.2" cy="274.1" r="3.7"/><circle cx="1296.3" cy="274.0" r="3.7"/><circle cx="1296.7" cy="273.3" r="3.7"/><circle cx="1298.2" cy="270.8" r="3.7"/><circle cx="1298.3" cy="270.6" r="3.7"/><circle cx="1298.9" cy="269.5" r="3.7"/><circle cx="1298.9" cy="269.5" r="3.7"/><circle cx="1301.9" cy="264.3" r="3.7"/><circle cx="1302.5" cy="263.3" r="3.7"/><circle cx="1306.0" cy="257.2" r="3.7"/><circle cx="1306.0" cy="257.1" r="3.7"/><circle cx="1306.7" cy="256.0" r="3.7"/><circle cx="1316.0" cy="251.4" r="3.7"/><circle cx="1319.4" cy="249.7" r="3.7"/><circle cx="1321.5" cy="248.7" r="3.7"/><circle cx="1322.6" cy="248.2" r="3.7"/><circle cx="1325.0" cy="247.0" r="3.7"/><circle cx="1331.5" cy="245.5" r="3.7"/><circle cx="1348.5" cy="241.4" r="3.7"/><circle cx="1351.7" cy="240.7" r="3.7"/><circle cx="1368.7" cy="239.0" r="3.7"/><circle cx="1386.7" cy="237.3" r="3.7"/><circle cx="1387.9" cy="237.1" r="3.7"/><circle cx="1413.3" cy="232.7" r="3.7"/><circle cx="1413.6" cy="232.6" r="3.7"/><circle cx="1419.9" cy="229.7" r="3.7"/><circle cx="1426.7" cy="226.7" r="3.7"/><circle cx="1428.3" cy="224.4" r="3.7"/><circle cx="1429.8" cy="222.1" r="3.7"/><circle cx="1429.9" cy="221.9" r="3.7"/><circle cx="1430.2" cy="221.6" r="3.7"/><circle cx="1431.2" cy="220.0" r="3.7"/><circle cx="1436.7" cy="212.0" r="3.7"/><circle cx="1437.0" cy="211.7" r="3.7"/><circle cx="1438.8" cy="209.9" r="3.7"/><circle cx="1448.0" cy="200.7" r="3.7"/><circle cx="1449.3" cy="199.4" r="3.7"/><circle cx="1449.3" cy="199.4" r="3.7"/><circle cx="1452.0" cy="196.7" r="3.7"/><circle cx="1474.7" cy="192.9" r="3.7"/><circle cx="1477.0" cy="192.5" r="3.7"/><circle cx="1478.5" cy="188.8" r="3.7"/><circle cx="1480.5" cy="183.7" r="3.7"/><circle cx="1481.4" cy="181.4" r="3.7"/><circle cx="1482.0" cy="180.0" r="3.7"/><circle cx="1485.0" cy="176.2" r="3.7"/><circle cx="1485.2" cy="176.0" r="3.7"/><circle cx="1489.8" cy="170.2" r="3.7"/><circle cx="1490.0" cy="170.0" r="3.7"/><circle cx="1492.5" cy="166.3" r="3.7"/><circle cx="1493.2" cy="165.2" r="3.7"/><circle cx="1493.7" cy="164.4" r="3.7"/><circle cx="1495.1" cy="162.4" r="3.7"/><circle cx="1498.7" cy="157.0" r="3.7"/><circle cx="1499.8" cy="156.8" r="3.7"/><circle cx="1515.3" cy="153.3" r="3.7"/><circle cx="1517.7" cy="151.5" r="3.7"/><circle cx="1521.2" cy="148.9" r="3.7"/><circle cx="1531.7" cy="141.0" r="3.7"/><circle cx="1533.7" cy="139.5" r="3.7"/><circle cx="1535.3" cy="138.3" r="3.7"/><circle cx="1538.8" cy="136.6" r="3.7"/><circle cx="1548.7" cy="131.7" r="3.7"/><circle cx="1550.5" cy="129.4" r="3.7"/><circle cx="1552.1" cy="127.4" r="3.7"/><circle cx="1555.3" cy="123.3" r="3.7"/><circle cx="1558.0" cy="122.0" r="3.7"/><circle cx="1568.7" cy="116.7" r="3.7"/><circle cx="1571.2" cy="110.4" r="3.7"/><circle cx="1574.0" cy="103.3" r="3.7"/><circle cx="1574.4" cy="102.2" r="3.7"/><circle cx="1574.9" cy="101.0" r="3.7"/><circle cx="1575.3" cy="100.0" r="3.7"/><circle cx="1587.8" cy="95.8" r="3.7"/><circle cx="1595.3" cy="93.3" r="3.7"/><circle cx="1596.8" cy="88.8" r="3.7"/><circle cx="1597.0" cy="88.3" r="3.7"/><circle cx="1618.5" cy="83.7" r="3.7"/><circle cx="1620.3" cy="83.3" r="3.7"/><circle cx="1620.6" cy="82.2" r="3.7"/><circle cx="1623.0" cy="74.2" r="3.7"/><circle cx="1623.9" cy="71.5" r="3.7"/><circle cx="1625.3" cy="66.7" r="3.7"/><circle cx="1631.4" cy="62.2" r="3.7"/><circle cx="1635.0" cy="59.5" r="3.7"/><circle cx="1638.7" cy="56.7" r="3.7"/><circle cx="1648.6" cy="51.7" r="3.7"/><circle cx="1652.0" cy="50.0" r="3.7"/><circle cx="1660.5" cy="45.3" r="3.7"/><circle cx="1665.3" cy="42.7" r="3.7"/><circle cx="1714.0" cy="20.0" r="3.7"/><circle cx="1753.5" cy="20.0" r="3.7"/></g>
<path d="M994.0,509.7 L1010.0,507.5 L1041.0,507.6 L1046.7,506.3 L1060.0,496.3 L1080.0,488.0 L1096.7,481.3 L1120.0,474.7 L1140.0,468.0 L1156.7,459.7 L1171.0,447.5 L1193.3,437.0 L1210.0,434.0 L1228.0,424.0 L1240.0,413.0 L1260.0,399.0 L1278.0,396.0 L1290.0,383.3 L1306.7,366.7 L1313.3,359.0 L1333.3,354.0 L1350.4,346.0 L1364.5,330.0 L1378.6,325.0 L1390.3,313.5 L1406.8,304.0 L1418.5,296.0 L1430.2,285.0 L1440.0,270.0 L1450.0,267.3 L1466.7,263.3 L1480.0,257.3 L1491.7,252.7 L1555.0,250.0 L1566.7,240.0 L1583.3,223.3 L1593.3,213.3 L1610.0,203.3 L1623.3,190.0 L1630.0,178.3 L1673.3,172.7 L1700.0,165.0 L1701.7,154.0 L1751.7,154.0" fill="none" stroke="#c98585" stroke-width="1.5"/>
<g fill="none" stroke="#c24a44" stroke-width="1.6"><circle cx="994.0" cy="509.7" r="3.7"/><circle cx="1010.0" cy="507.5" r="3.7"/><circle cx="1041.0" cy="507.6" r="3.7"/><circle cx="1042.7" cy="507.2" r="3.7"/><circle cx="1046.7" cy="506.3" r="3.7"/><circle cx="1047.6" cy="505.6" r="3.7"/><circle cx="1048.6" cy="504.9" r="3.7"/><circle cx="1050.8" cy="503.2" r="3.7"/><circle cx="1051.4" cy="502.8" r="3.7"/><circle cx="1053.0" cy="501.6" r="3.7"/><circle cx="1056.4" cy="499.0" r="3.7"/><circle cx="1058.8" cy="497.2" r="3.7"/><circle cx="1060.0" cy="496.3" r="3.7"/><circle cx="1065.4" cy="494.1" r="3.7"/><circle cx="1066.2" cy="493.7" r="3.7"/><circle cx="1068.0" cy="493.0" r="3.7"/><circle cx="1071.1" cy="491.7" r="3.7"/><circle cx="1073.0" cy="490.9" r="3.7"/><circle cx="1079.1" cy="488.4" r="3.7"/><circle cx="1080.0" cy="488.0" r="3.7"/><circle cx="1082.9" cy="486.8" r="3.7"/><circle cx="1083.0" cy="486.8" r="3.7"/><circle cx="1083.7" cy="486.5" r="3.7"/><circle cx="1088.3" cy="484.7" r="3.7"/><circle cx="1094.9" cy="482.0" r="3.7"/><circle cx="1096.7" cy="481.3" r="3.7"/><circle cx="1102.1" cy="479.8" r="3.7"/><circle cx="1107.2" cy="478.3" r="3.7"/><circle cx="1117.4" cy="475.4" r="3.7"/><circle cx="1119.5" cy="474.9" r="3.7"/><circle cx="1120.0" cy="474.7" r="3.7"/><circle cx="1122.1" cy="474.0" r="3.7"/><circle cx="1123.1" cy="473.7" r="3.7"/><circle cx="1124.1" cy="473.3" r="3.7"/><circle cx="1127.0" cy="472.4" r="3.7"/><circle cx="1140.0" cy="468.0" r="3.7"/><circle cx="1141.8" cy="467.1" r="3.7"/><circle cx="1144.2" cy="465.9" r="3.7"/><circle cx="1144.5" cy="465.8" r="3.7"/><circle cx="1149.5" cy="463.3" r="3.7"/><circle cx="1154.6" cy="460.8" r="3.7"/><circle cx="1156.7" cy="459.7" r="3.7"/><circle cx="1157.8" cy="458.7" r="3.7"/><circle cx="1160.8" cy="456.2" r="3.7"/><circle cx="1161.6" cy="455.5" r="3.7"/><circle cx="1162.2" cy="455.0" r="3.7"/><circle cx="1162.7" cy="454.6" r="3.7"/><circle cx="1162.7" cy="454.6" r="3.7"/><circle cx="1164.2" cy="453.3" r="3.7"/><circle cx="1167.3" cy="450.7" r="3.7"/><circle cx="1171.0" cy="447.5" r="3.7"/><circle cx="1174.1" cy="446.0" r="3.7"/><circle cx="1176.1" cy="445.1" r="3.7"/><circle cx="1177.2" cy="444.6" r="3.7"/><circle cx="1182.2" cy="442.2" r="3.7"/><circle cx="1184.9" cy="440.9" r="3.7"/><circle cx="1189.9" cy="438.6" r="3.7"/><circle cx="1192.2" cy="437.5" r="3.7"/><circle cx="1193.3" cy="437.0" r="3.7"/><circle cx="1197.6" cy="436.2" r="3.7"/><circle cx="1210.0" cy="434.0" r="3.7"/><circle cx="1210.7" cy="433.6" r="3.7"/><circle cx="1217.3" cy="430.0" r="3.7"/><circle cx="1218.1" cy="429.5" r="3.7"/><circle cx="1225.0" cy="425.7" r="3.7"/><circle cx="1225.4" cy="425.4" r="3.7"/><circle cx="1226.8" cy="424.6" r="3.7"/><circle cx="1228.0" cy="424.0" r="3.7"/><circle cx="1228.2" cy="423.8" r="3.7"/><circle cx="1228.6" cy="423.4" r="3.7"/><circle cx="1233.7" cy="418.8" r="3.7"/><circle cx="1235.0" cy="417.6" r="3.7"/><circle cx="1236.4" cy="416.3" r="3.7"/><circle cx="1238.6" cy="414.3" r="3.7"/><circle cx="1240.0" cy="413.0" r="3.7"/><circle cx="1242.5" cy="411.3" r="3.7"/><circle cx="1243.4" cy="410.6" r="3.7"/><circle cx="1245.2" cy="409.4" r="3.7"/><circle cx="1247.9" cy="407.5" r="3.7"/><circle cx="1256.3" cy="401.6" r="3.7"/><circle cx="1256.8" cy="401.2" r="3.7"/><circle cx="1258.2" cy="400.3" r="3.7"/><circle cx="1259.1" cy="399.7" r="3.7"/><circle cx="1260.0" cy="399.0" r="3.7"/><circle cx="1269.4" cy="397.4" r="3.7"/><circle cx="1278.0" cy="396.0" r="3.7"/><circle cx="1283.5" cy="390.2" r="3.7"/><circle cx="1284.6" cy="389.0" r="3.7"/><circle cx="1285.7" cy="387.9" r="3.7"/><circle cx="1286.1" cy="387.4" r="3.7"/><circle cx="1286.6" cy="386.9" r="3.7"/><circle cx="1287.1" cy="386.4" r="3.7"/><circle cx="1289.1" cy="384.3" r="3.7"/><circle cx="1290.0" cy="383.3" r="3.7"/><circle cx="1291.0" cy="382.3" r="3.7"/><circle cx="1292.4" cy="380.9" r="3.7"/><circle cx="1294.1" cy="379.3" r="3.7"/><circle cx="1294.4" cy="379.0" r="3.7"/><circle cx="1295.2" cy="378.1" r="3.7"/><circle cx="1300.7" cy="372.7" r="3.7"/><circle cx="1302.9" cy="370.5" r="3.7"/><circle cx="1305.1" cy="368.3" r="3.7"/><circle cx="1306.7" cy="366.7" r="3.7"/><circle cx="1307.3" cy="366.0" r="3.7"/><circle cx="1307.5" cy="365.7" r="3.7"/><circle cx="1310.9" cy="361.8" r="3.7"/><circle cx="1311.3" cy="361.4" r="3.7"/><circle cx="1313.3" cy="359.0" r="3.7"/><circle cx="1323.8" cy="356.4" r="3.7"/><circle cx="1324.9" cy="356.1" r="3.7"/><circle cx="1333.3" cy="354.0" r="3.7"/><circle cx="1337.3" cy="352.1" r="3.7"/><circle cx="1340.0" cy="350.9" r="3.7"/><circle cx="1343.5" cy="349.2" r="3.7"/><circle cx="1350.4" cy="346.0" r="3.7"/><circle cx="1350.8" cy="345.5" r="3.7"/><circle cx="1354.8" cy="341.0" r="3.7"/><circle cx="1356.9" cy="338.6" r="3.7"/><circle cx="1357.1" cy="338.4" r="3.7"/><circle cx="1359.4" cy="335.8" r="3.7"/><circle cx="1362.6" cy="332.1" r="3.7"/><circle cx="1363.7" cy="331.0" r="3.7"/><circle cx="1364.5" cy="330.0" r="3.7"/><circle cx="1368.0" cy="328.8" r="3.7"/><circle cx="1368.1" cy="328.7" r="3.7"/><circle cx="1378.6" cy="325.0" r="3.7"/><circle cx="1379.1" cy="324.5" r="3.7"/><circle cx="1382.3" cy="321.4" r="3.7"/><circle cx="1384.4" cy="319.3" r="3.7"/><circle cx="1386.7" cy="317.0" r="3.7"/><circle cx="1389.6" cy="314.2" r="3.7"/><circle cx="1390.3" cy="313.5" r="3.7"/><circle cx="1394.7" cy="311.0" r="3.7"/><circle cx="1397.3" cy="309.5" r="3.7"/><circle cx="1401.2" cy="307.2" r="3.7"/><circle cx="1401.3" cy="307.2" r="3.7"/><circle cx="1406.8" cy="304.0" r="3.7"/><circle cx="1407.4" cy="303.6" r="3.7"/><circle cx="1409.6" cy="302.1" r="3.7"/><circle cx="1417.4" cy="296.7" r="3.7"/><circle cx="1418.5" cy="296.0" r="3.7"/><circle cx="1421.0" cy="293.7" r="3.7"/><circle cx="1422.5" cy="292.2" r="3.7"/><circle cx="1423.5" cy="291.3" r="3.7"/><circle cx="1426.4" cy="288.6" r="3.7"/><circle cx="1430.2" cy="285.0" r="3.7"/><circle cx="1432.3" cy="281.7" r="3.7"/><circle cx="1435.1" cy="277.4" r="3.7"/><circle cx="1437.3" cy="274.1" r="3.7"/><circle cx="1437.9" cy="273.2" r="3.7"/><circle cx="1439.5" cy="270.7" r="3.7"/><circle cx="1440.0" cy="270.0" r="3.7"/><circle cx="1443.2" cy="269.1" r="3.7"/><circle cx="1450.0" cy="267.3" r="3.7"/><circle cx="1463.5" cy="264.1" r="3.7"/><circle cx="1466.7" cy="263.3" r="3.7"/><circle cx="1469.8" cy="261.9" r="3.7"/><circle cx="1469.9" cy="261.9" r="3.7"/><circle cx="1480.0" cy="257.3" r="3.7"/><circle cx="1488.8" cy="253.8" r="3.7"/><circle cx="1491.7" cy="252.7" r="3.7"/><circle cx="1555.0" cy="250.0" r="3.7"/><circle cx="1558.5" cy="247.0" r="3.7"/><circle cx="1565.9" cy="240.7" r="3.7"/><circle cx="1566.7" cy="240.0" r="3.7"/><circle cx="1570.0" cy="236.7" r="3.7"/><circle cx="1570.6" cy="236.1" r="3.7"/><circle cx="1573.7" cy="233.0" r="3.7"/><circle cx="1574.9" cy="231.7" r="3.7"/><circle cx="1583.3" cy="223.3" r="3.7"/><circle cx="1589.9" cy="216.7" r="3.7"/><circle cx="1592.6" cy="214.0" r="3.7"/><circle cx="1593.3" cy="213.3" r="3.7"/><circle cx="1596.0" cy="211.7" r="3.7"/><circle cx="1599.9" cy="209.3" r="3.7"/><circle cx="1610.0" cy="203.3" r="3.7"/><circle cx="1612.1" cy="201.2" r="3.7"/><circle cx="1613.0" cy="200.3" r="3.7"/><circle cx="1622.7" cy="190.6" r="3.7"/><circle cx="1623.3" cy="190.0" r="3.7"/><circle cx="1623.8" cy="189.2" r="3.7"/><circle cx="1623.8" cy="189.1" r="3.7"/><circle cx="1626.0" cy="185.3" r="3.7"/><circle cx="1630.0" cy="178.3" r="3.7"/><circle cx="1673.3" cy="172.7" r="3.7"/><circle cx="1700.0" cy="165.0" r="3.7"/><circle cx="1701.7" cy="154.0" r="3.7"/><circle cx="1751.7" cy="154.0" r="3.7"/></g>
<path d="M994.0,509.7 L1000.0,508.3 L1005.0,507.6 L1010.0,507.2 L1073.3,507.0 L1083.3,503.0 L1093.3,498.0 L1116.7,493.0 L1133.3,484.7 L1150.0,476.7 L1153.3,474.7 L1170.0,469.0 L1193.3,464.5 L1213.3,455.0 L1230.0,447.3 L1250.0,445.5 L1270.0,436.5 L1286.7,425.5 L1306.7,418.5 L1316.7,413.3 L1333.3,409.5 L1350.0,406.7 L1360.0,391.7 L1370.0,386.7 L1390.0,380.0 L1400.0,375.0 L1418.5,366.8 L1425.5,355.0 L1432.6,340.9 L1437.3,331.5 L1444.3,329.2 L1458.4,326.9 L1506.7,321.7 L1526.7,313.3 L1546.7,308.3 L1561.7,303.3 L1566.7,288.3 L1576.7,275.0 L1586.7,265.0 L1590.0,256.7 L1600.0,250.0 L1620.0,243.3 L1621.7,235.0 L1630.0,221.7 L1701.7,207.3 L1708.3,183.3 L1722.0,133.3 L1750.3,133.3" fill="none" stroke="#4fa394" stroke-width="1.5"/>
<g fill="none" stroke="#26907e" stroke-width="1.6"><circle cx="994.0" cy="509.7" r="3.7"/><circle cx="1000.0" cy="508.3" r="3.7"/><circle cx="1005.0" cy="507.6" r="3.7"/><circle cx="1010.0" cy="507.2" r="3.7"/><circle cx="1073.3" cy="507.0" r="3.7"/><circle cx="1080.5" cy="504.1" r="3.7"/><circle cx="1082.0" cy="503.5" r="3.7"/><circle cx="1082.1" cy="503.5" r="3.7"/><circle cx="1083.3" cy="503.0" r="3.7"/><circle cx="1086.7" cy="501.3" r="3.7"/><circle cx="1092.4" cy="498.4" r="3.7"/><circle cx="1093.1" cy="498.1" r="3.7"/><circle cx="1093.3" cy="498.0" r="3.7"/><circle cx="1097.9" cy="497.0" r="3.7"/><circle cx="1110.5" cy="494.3" r="3.7"/><circle cx="1114.8" cy="493.4" r="3.7"/><circle cx="1116.7" cy="493.0" r="3.7"/><circle cx="1117.5" cy="492.6" r="3.7"/><circle cx="1119.7" cy="491.5" r="3.7"/><circle cx="1122.3" cy="490.2" r="3.7"/><circle cx="1123.0" cy="489.9" r="3.7"/><circle cx="1123.1" cy="489.8" r="3.7"/><circle cx="1127.6" cy="487.5" r="3.7"/><circle cx="1133.3" cy="484.7" r="3.7"/><circle cx="1133.7" cy="484.5" r="3.7"/><circle cx="1135.6" cy="483.6" r="3.7"/><circle cx="1138.1" cy="482.4" r="3.7"/><circle cx="1139.3" cy="481.8" r="3.7"/><circle cx="1149.0" cy="477.2" r="3.7"/><circle cx="1150.0" cy="476.7" r="3.7"/><circle cx="1153.1" cy="474.8" r="3.7"/><circle cx="1153.3" cy="474.7" r="3.7"/><circle cx="1157.0" cy="473.5" r="3.7"/><circle cx="1159.4" cy="472.6" r="3.7"/><circle cx="1166.8" cy="470.1" r="3.7"/><circle cx="1170.0" cy="469.0" r="3.7"/><circle cx="1171.6" cy="468.7" r="3.7"/><circle cx="1180.1" cy="467.0" r="3.7"/><circle cx="1188.9" cy="465.4" r="3.7"/><circle cx="1193.3" cy="464.5" r="3.7"/><circle cx="1197.4" cy="462.5" r="3.7"/><circle cx="1200.7" cy="461.0" r="3.7"/><circle cx="1200.9" cy="460.9" r="3.7"/><circle cx="1202.8" cy="460.0" r="3.7"/><circle cx="1210.9" cy="456.1" r="3.7"/><circle cx="1211.4" cy="455.9" r="3.7"/><circle cx="1213.3" cy="455.0" r="3.7"/><circle cx="1214.1" cy="454.6" r="3.7"/><circle cx="1220.2" cy="451.8" r="3.7"/><circle cx="1225.9" cy="449.2" r="3.7"/><circle cx="1226.6" cy="448.8" r="3.7"/><circle cx="1230.0" cy="447.3" r="3.7"/><circle cx="1231.2" cy="447.2" r="3.7"/><circle cx="1250.0" cy="445.5" r="3.7"/><circle cx="1251.1" cy="445.0" r="3.7"/><circle cx="1251.6" cy="444.8" r="3.7"/><circle cx="1255.3" cy="443.1" r="3.7"/><circle cx="1264.7" cy="438.9" r="3.7"/><circle cx="1268.1" cy="437.4" r="3.7"/><circle cx="1270.0" cy="436.5" r="3.7"/><circle cx="1274.5" cy="433.5" r="3.7"/><circle cx="1274.7" cy="433.4" r="3.7"/><circle cx="1275.8" cy="432.7" r="3.7"/><circle cx="1280.2" cy="429.8" r="3.7"/><circle cx="1284.7" cy="426.8" r="3.7"/><circle cx="1285.7" cy="426.2" r="3.7"/><circle cx="1286.7" cy="425.5" r="3.7"/><circle cx="1292.4" cy="423.5" r="3.7"/><circle cx="1293.2" cy="423.2" r="3.7"/><circle cx="1300.9" cy="420.5" r="3.7"/><circle cx="1306.7" cy="418.5" r="3.7"/><circle cx="1306.9" cy="418.4" r="3.7"/><circle cx="1314.2" cy="414.6" r="3.7"/><circle cx="1316.7" cy="413.3" r="3.7"/><circle cx="1331.6" cy="409.9" r="3.7"/><circle cx="1333.3" cy="409.5" r="3.7"/><circle cx="1343.8" cy="407.7" r="3.7"/><circle cx="1350.0" cy="406.7" r="3.7"/><circle cx="1350.4" cy="406.1" r="3.7"/><circle cx="1352.4" cy="403.0" r="3.7"/><circle cx="1353.9" cy="400.8" r="3.7"/><circle cx="1354.8" cy="399.6" r="3.7"/><circle cx="1359.3" cy="392.8" r="3.7"/><circle cx="1359.4" cy="392.7" r="3.7"/><circle cx="1359.4" cy="392.6" r="3.7"/><circle cx="1360.0" cy="391.7" r="3.7"/><circle cx="1362.6" cy="390.4" r="3.7"/><circle cx="1364.3" cy="389.5" r="3.7"/><circle cx="1370.0" cy="386.7" r="3.7"/><circle cx="1373.9" cy="385.4" r="3.7"/><circle cx="1379.9" cy="383.4" r="3.7"/><circle cx="1388.2" cy="380.6" r="3.7"/><circle cx="1390.0" cy="380.0" r="3.7"/><circle cx="1397.3" cy="376.4" r="3.7"/><circle cx="1397.9" cy="376.0" r="3.7"/><circle cx="1400.0" cy="375.0" r="3.7"/><circle cx="1411.2" cy="370.1" r="3.7"/><circle cx="1414.1" cy="368.8" r="3.7"/><circle cx="1415.0" cy="368.4" r="3.7"/><circle cx="1418.5" cy="366.8" r="3.7"/><circle cx="1420.8" cy="362.9" r="3.7"/><circle cx="1420.8" cy="362.9" r="3.7"/><circle cx="1421.1" cy="362.5" r="3.7"/><circle cx="1423.9" cy="357.7" r="3.7"/><circle cx="1425.5" cy="355.0" r="3.7"/><circle cx="1426.1" cy="353.8" r="3.7"/><circle cx="1426.2" cy="353.6" r="3.7"/><circle cx="1427.0" cy="352.0" r="3.7"/><circle cx="1427.3" cy="351.4" r="3.7"/><circle cx="1430.8" cy="344.5" r="3.7"/><circle cx="1432.6" cy="340.9" r="3.7"/><circle cx="1432.8" cy="340.4" r="3.7"/><circle cx="1434.2" cy="337.8" r="3.7"/><circle cx="1435.2" cy="335.7" r="3.7"/><circle cx="1437.3" cy="331.5" r="3.7"/><circle cx="1444.3" cy="329.2" r="3.7"/><circle cx="1458.4" cy="326.9" r="3.7"/><circle cx="1506.7" cy="321.7" r="3.7"/><circle cx="1524.1" cy="314.4" r="3.7"/><circle cx="1525.9" cy="313.6" r="3.7"/><circle cx="1526.7" cy="313.3" r="3.7"/><circle cx="1546.1" cy="308.5" r="3.7"/><circle cx="1546.7" cy="308.3" r="3.7"/><circle cx="1550.8" cy="306.9" r="3.7"/><circle cx="1561.7" cy="303.3" r="3.7"/><circle cx="1562.2" cy="301.8" r="3.7"/><circle cx="1562.3" cy="301.6" r="3.7"/><circle cx="1564.2" cy="295.8" r="3.7"/><circle cx="1565.2" cy="292.8" r="3.7"/><circle cx="1566.7" cy="288.3" r="3.7"/><circle cx="1569.1" cy="285.0" r="3.7"/><circle cx="1570.9" cy="282.7" r="3.7"/><circle cx="1571.2" cy="282.3" r="3.7"/><circle cx="1576.7" cy="275.0" r="3.7"/><circle cx="1582.9" cy="268.8" r="3.7"/><circle cx="1583.4" cy="268.3" r="3.7"/><circle cx="1586.7" cy="265.0" r="3.7"/><circle cx="1589.1" cy="258.9" r="3.7"/><circle cx="1589.4" cy="258.1" r="3.7"/><circle cx="1590.0" cy="256.7" r="3.7"/><circle cx="1596.6" cy="252.3" r="3.7"/><circle cx="1600.0" cy="250.0" r="3.7"/><circle cx="1602.7" cy="249.1" r="3.7"/><circle cx="1620.0" cy="243.3" r="3.7"/><circle cx="1620.5" cy="240.8" r="3.7"/><circle cx="1621.4" cy="236.4" r="3.7"/><circle cx="1621.7" cy="235.0" r="3.7"/><circle cx="1624.8" cy="230.0" r="3.7"/><circle cx="1626.4" cy="227.5" r="3.7"/><circle cx="1627.7" cy="225.3" r="3.7"/><circle cx="1630.0" cy="221.7" r="3.7"/><circle cx="1701.7" cy="207.3" r="3.7"/><circle cx="1708.3" cy="183.3" r="3.7"/><circle cx="1722.0" cy="133.3" r="3.7"/><circle cx="1750.3" cy="133.3" r="3.7"/></g>

<text x="139.5" y="42.7" class="pv" textLength="89.5" lengthAdjust="spacingAndGlyphs">P &lt; 0.001</text>
<line x1="138" y1="46.6" x2="228.5" y2="46.6" stroke="#777" stroke-width="2.2"/>
<text x="1034.0" y="62.0" class="pv" textLength="89.5" lengthAdjust="spacingAndGlyphs">P &lt; 0.001</text>
<line x1="1032.5" y1="65.3" x2="1122" y2="65.3" stroke="#777" stroke-width="2.2"/>
<rect x="132" y="60" width="163.8" height="82.4" fill="#fff" stroke="#555" stroke-width="2"/>
<line x1="132" y1="101.3" x2="295.8" y2="101.3" stroke="#555" stroke-width="2"/>
<text x="144.3" y="85.9" class="tb" textLength="103.5" lengthAdjust="spacingAndGlyphs">&lt; 15 ng/mL</text>
<text x="145.7" y="126.8" class="tb" textLength="38.1" lengthAdjust="spacingAndGlyphs">≥ 15</text>
<rect x="1027.8" y="84.2" width="222.1" height="124.7" fill="#fff" stroke="#555" stroke-width="2"/>
<line x1="1027.8" y1="125" x2="1249.9" y2="125" stroke="#555" stroke-width="2"/>
<line x1="1027.8" y1="167.3" x2="1249.9" y2="167.3" stroke="#555" stroke-width="2"/>
<line x1="1082.8" y1="84.2" x2="1082.8" y2="208.9" stroke="#555" stroke-width="2"/>
<text x="1042.2" y="111.5" class="tb" textLength="25.0" lengthAdjust="spacingAndGlyphs">1T</text>
<text x="1041.1" y="151.8" class="tb" textLength="26.2" lengthAdjust="spacingAndGlyphs">2T</text>
<text x="1040.5" y="194.1" class="tb" textLength="27.0" lengthAdjust="spacingAndGlyphs">3T</text>
<text x="1095.6" y="111.5" class="tb" textLength="123.0" lengthAdjust="spacingAndGlyphs">&lt; 14.1 ng/mL</text>
<text x="1096.5" y="151.8" class="tb" textLength="99.3" lengthAdjust="spacingAndGlyphs">14.1 – 19.3</text>
<text x="1096.5" y="194.1" class="tb" textLength="56.6" lengthAdjust="spacingAndGlyphs">≥ 19.4</text>
<text x="570.2" y="83.2" class="cl" textLength="102.8" lengthAdjust="spacingAndGlyphs">&lt; 15 ng/mL</text>
<text x="702.1" y="258.0" class="cl" textLength="104.6" lengthAdjust="spacingAndGlyphs">≥ 15 ng/mL</text>
<text x="1560.1" y="60.7" class="cl" textLength="25.0" lengthAdjust="spacingAndGlyphs">1T</text>
<text x="1635.3" y="131.5" class="cl" textLength="25.0" lengthAdjust="spacingAndGlyphs">2T</text>
<text x="1682.7" y="258.0" class="cl" textLength="24.6" lengthAdjust="spacingAndGlyphs">3T</text>
<text x="449.5" y="576.0" class="ax" textLength="103.1" lengthAdjust="spacingAndGlyphs">Time (year)</text>
<text x="1346.0" y="595.3" class="ax" textLength="105.7" lengthAdjust="spacingAndGlyphs">Time (year)</text>
<text transform="translate(21.6,254.8) rotate(-90)" class="ay" style="white-space:pre" text-anchor="middle" textLength="235.6" lengthAdjust="spacingAndGlyphs">-log(Survival  Probability)</text>
<text transform="translate(927,251.6) rotate(-90)" class="ay" style="white-space:pre" text-anchor="middle" textLength="236.5" lengthAdjust="spacingAndGlyphs">-log(Survival  Probability)</text>
<text x="242.9" y="617.8" class="ax2" textLength="136.9" lengthAdjust="spacingAndGlyphs">25(OH)D strata</text>
<text x="1090.7" y="625.0" class="ax2" textLength="138.6" lengthAdjust="spacingAndGlyphs">25(OH)D strata</text>
<rect x="399.7" y="605.7" width="196.8" height="24.3" fill="#fff" stroke="#e0e0e0" stroke-width="1.5"/><line x1="407.4" y1="618.4" x2="473.2" y2="618.4" stroke="#8c91bb" stroke-width="1.8"/><circle cx="441.8" cy="618.4" r="3.5" fill="none" stroke="#5864a6" stroke-width="1.6"/><text x="483.5" y="623.9" class="lg">1</text><line x1="504.6" y1="618.4" x2="571.6" y2="618.4" stroke="#c98585" stroke-width="1.8"/><circle cx="539.0" cy="618.4" r="3.5" fill="none" stroke="#c24a44" stroke-width="1.6"/><text x="579.5" y="623.9" class="lg">2</text>
<path d="M1249.0,631.5 H1556.5 V612.0" fill="none" stroke="#e2e2e2" stroke-width="1.5"/><line x1="1265.1" y1="620.4" x2="1332.7" y2="620.4" stroke="#8c91bb" stroke-width="1.8"/><circle cx="1299.8" cy="620.4" r="3.5" fill="none" stroke="#5864a6" stroke-width="1.6"/><text x="1341.5" y="625.9" class="lg">1</text><line x1="1365.6" y1="620.4" x2="1431.3" y2="620.4" stroke="#c98585" stroke-width="1.8"/><circle cx="1399.3" cy="620.4" r="3.5" fill="none" stroke="#c24a44" stroke-width="1.6"/><text x="1439.5" y="625.9" class="lg">2</text><line x1="1464.2" y1="620.4" x2="1531.8" y2="620.4" stroke="#4fa394" stroke-width="1.8"/><circle cx="1498.0" cy="620.4" r="3.5" fill="none" stroke="#26907e" stroke-width="1.6"/><text x="1539.3" y="625.9" class="lg">3</text>
</svg>
<svg id="top" width="1772" height="639" viewBox="0 0 1772 639">
<text x="1.3" y="24.5" class="pl" textLength="23" lengthAdjust="spacingAndGlyphs">A</text>
<text x="914.2" y="24.5" class="pl" textLength="19.8" lengthAdjust="spacingAndGlyphs">B</text>
</svg>
</body></html>
